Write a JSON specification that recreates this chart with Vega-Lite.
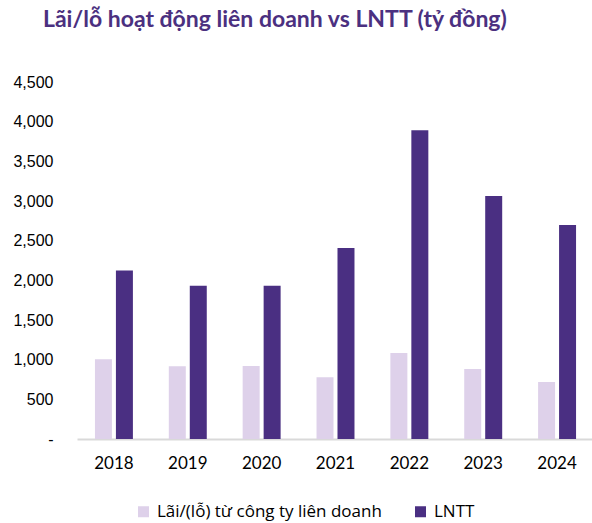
{
  "$schema": "https://vega.github.io/schema/vega-lite/v6.json",
  "autosize": {"type": "none"},
  "width": 517,
  "height": 357,
  "padding": {"left": 77, "top": 82, "right": 0, "bottom": 84},
  "background": "white",
  "title": {
    "text": "Lãi/lỗ hoạt động liên doanh vs LNTT (tỷ đồng)",
    "anchor": "start",
    "frame": "group",
    "dx": -34,
    "offset": 42,
    "font": "Lato",
    "fontSize": 23,
    "fontWeight": "bold",
    "color": "#4B3080"
  },
  "data": {
    "values": [
      {"year": "2018", "series": "Lãi/(lỗ) từ công ty liên doanh", "value": 1004},
      {"year": "2019", "series": "Lãi/(lỗ) từ công ty liên doanh", "value": 916},
      {"year": "2020", "series": "Lãi/(lỗ) từ công ty liên doanh", "value": 919},
      {"year": "2021", "series": "Lãi/(lỗ) từ công ty liên doanh", "value": 777},
      {"year": "2022", "series": "Lãi/(lỗ) từ công ty liên doanh", "value": 1083},
      {"year": "2023", "series": "Lãi/(lỗ) từ công ty liên doanh", "value": 882},
      {"year": "2024", "series": "Lãi/(lỗ) từ công ty liên doanh", "value": 718},
      {"year": "2018", "series": "LNTT", "value": 2125},
      {"year": "2019", "series": "LNTT", "value": 1931},
      {"year": "2020", "series": "LNTT", "value": 1931},
      {"year": "2021", "series": "LNTT", "value": 2409},
      {"year": "2022", "series": "LNTT", "value": 3892},
      {"year": "2023", "series": "LNTT", "value": 3064},
      {"year": "2024", "series": "LNTT", "value": 2699}
    ]
  },
  "mark": {"type": "bar"},
  "encoding": {
    "x": {
      "field": "year",
      "type": "nominal",
      "scale": {"paddingInner": 0.486, "paddingOuter": 0.243},
      "axis": {
        "title": null,
        "labelAngle": 0,
        "ticks": false,
        "domainColor": "#D9D9D9",
        "domainWidth": 2,
        "labelFont": "Lato",
        "labelFontSize": 17,
        "labelColor": "#000000",
        "labelPadding": 16
      }
    },
    "xOffset": {
      "field": "series",
      "sort": ["Lãi/(lỗ) từ công ty liên doanh", "LNTT"],
      "scale": {"paddingInner": 0.19, "paddingOuter": 0}
    },
    "y": {
      "field": "value",
      "type": "quantitative",
      "scale": {"domain": [0, 4500], "nice": false},
      "axis": {
        "title": null,
        "values": [0, 500, 1000, 1500, 2000, 2500, 3000, 3500, 4000, 4500],
        "labelExpr": "datum.value == 0 ? '-' : format(datum.value, ',')",
        "grid": false,
        "ticks": false,
        "domain": false,
        "labelFont": "Liberation Sans",
        "labelFontSize": 16,
        "labelColor": "#000000",
        "labelPadding": 24
      }
    },
    "color": {
      "field": "series",
      "type": "nominal",
      "sort": ["Lãi/(lỗ) từ công ty liên doanh", "LNTT"],
      "scale": {
        "domain": ["Lãi/(lỗ) từ công ty liên doanh", "LNTT"],
        "range": ["#DED1EA", "#4A2F82"]
      },
      "legend": {
        "title": null,
        "orient": "none",
        "direction": "horizontal",
        "legendX": 58,
        "legendY": 421,
        "symbolType": "square",
        "symbolSize": 121,
        "symbolStrokeWidth": 0,
        "labelFont": "Open Sans",
        "labelFontSize": 17,
        "labelLimit": 0,
        "labelColor": "#000000",
        "labelOffset": 5,
        "columnPadding": 30
      }
    }
  },
  "config": {"view": {"stroke": null}}
}
